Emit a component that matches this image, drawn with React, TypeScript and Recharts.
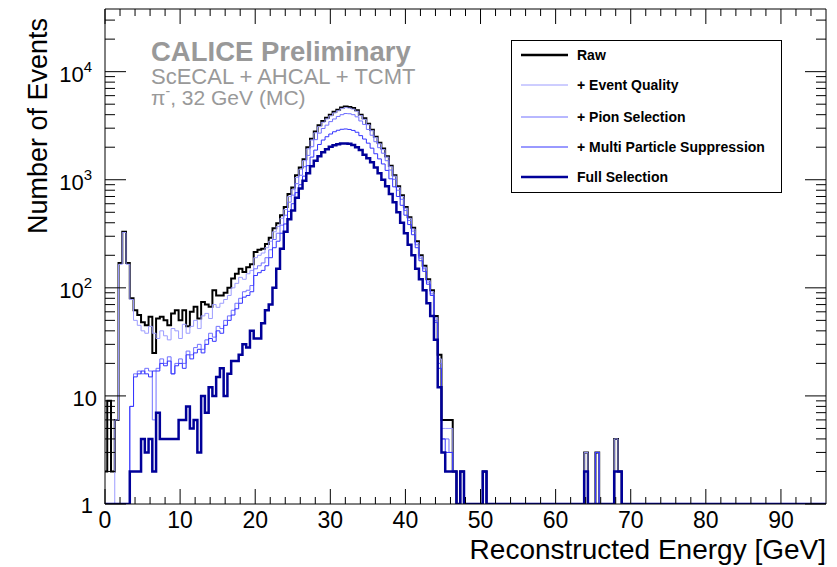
import React from 'react';
import { LineChart, Line, XAxis, YAxis } from 'recharts';

// histogram binning (GeV), bins start at -0.2 with 0.5 GeV width
const binStart = -0.2;
const binWidth = 0.5;
const xMax = 96;
const yMin = 1;
const yMax = 38000;

// counts per bin, from the first bin up to ~48 GeV
const rawCounts = [
  2, 9, 2, 6, 170, 330, 170, 80, 62, 56,
  48, 45, 54, 25, 52, 54, 50, 45, 58, 62,
  50, 62, 44, 60, 67, 52, 74, 70, 67, 95,
  85, 85, 90, 100, 122, 135, 150, 140, 155, 165,
  215, 225, 230, 255, 290, 355, 395, 470, 560, 740,
  850, 1100, 1300, 1550, 2000, 2400, 2800, 3200, 3500, 3750,
  4000, 4250, 4450, 4650, 4750, 4700, 4600, 4400, 4000, 3700,
  3300, 2900, 2500, 2200, 1950, 1650, 1350, 1100, 870, 720,
  560, 450, 360, 270, 200, 160, 120, 95, 55, 24,
  6, 6, 6, 2, 0, 2, 0,
];

const eqCounts = [
  0, 0, 0, 6, 165, 325, 165, 78, 50, 45,
  40, 38, 44, 38, 34, 40, 36, 33, 42, 40,
  34, 46, 38, 44, 50, 42, 55, 58, 52, 70,
  66, 72, 78, 85, 100, 110, 125, 120, 135, 145,
  190, 200, 210, 235, 270, 330, 370, 440, 530, 700,
  810, 1050, 1250, 1500, 1930, 2330, 2720, 3100, 3400, 3650,
  3900, 4150, 4350, 4550, 4650, 4600, 4500, 4300, 3920, 3620,
  3230, 2840, 2450, 2150, 1900, 1620, 1320, 1080, 850, 700,
  545, 440, 350, 262, 195, 155, 117, 92, 53, 22,
  5, 5, 5, 2, 0, 2, 0,
];

const pionCounts = [
  0, 0, 0, 0, 0, 0, 0, 8, 16, 17,
  16, 18, 17, 6, 18, 22, 20, 23, 16, 20,
  22, 20, 26, 24, 28, 30, 27, 33, 38, 35,
  44, 42, 50, 55, 62, 72, 80, 92, 95, 105,
  150, 160, 170, 190, 225, 280, 320, 380, 470, 620,
  720, 920, 1100, 1320, 1680, 2020, 2350, 2700, 2980, 3200,
  3450, 3650, 3850, 4000, 4100, 4080, 4000, 3820, 3500, 3250,
  2920, 2580, 2250, 1980, 1760, 1500, 1230, 1010, 800, 660,
  520, 420, 335, 250, 188, 150, 113, 88, 50, 20,
  4, 4, 3, 2, 0, 2, 0,
];

const multiCounts = [
  0, 0, 0, 0, 0, 0, 0, 8, 15, 16,
  17, 16, 15, 17, 17, 20, 19, 21, 16, 19,
  20, 18, 24, 22, 25, 27, 25, 30, 34, 32,
  40, 38, 45, 50, 56, 64, 72, 82, 85, 92,
  130, 138, 145, 160, 190, 235, 270, 320, 390, 510,
  600, 760, 900, 1080, 1350, 1620, 1880, 2120, 2330, 2500,
  2650, 2780, 2870, 2930, 2950, 2920, 2860, 2750, 2560, 2380,
  2180, 1960, 1740, 1560, 1400, 1220, 1020, 860, 700, 580,
  470, 385, 310, 235, 178, 142, 108, 85, 48, 18,
  4, 3, 3, 2, 0, 2, 0,
];

const fullCounts = [
  0, 0, 0, 0, 0, 0, 0, 2, 2, 2,
  4, 3, 4, 2, 7, 4, 4, 4, 4, 4,
  6, 6, 8, 5, 6, 3, 10, 7, 12, 10,
  15, 18, 10, 16, 21, 21, 24, 30, 28, 40,
  34, 34, 47, 62, 70, 100, 150, 230, 330, 430,
  520, 680, 830, 980, 1150, 1330, 1500, 1650, 1800, 1920,
  2020, 2090, 2130, 2160, 2170, 2150, 2100, 2000, 1880, 1700,
  1580, 1450, 1300, 1150, 1000, 870, 740, 620, 500, 400,
  320, 250, 200, 150, 120, 95, 72, 55, 33, 12,
  3, 2, 2, 2, 0, 2, 0,
];

// isolated high-energy bins (lower bin edge in GeV)
const tailEdges = [50.3, 63.8, 65.3, 67.8, 68.3];
const rawTail = [2, 3, 3, 4, 2];
const eqTail = [2, 3, 3, 4, 2];
const pionTail = [2, 2, 3, 2, 2];
const multiTail = [2, 2, 3, 2, 2];
const fullTail = [2, 2, 0, 2, 2];

const xTicks = [
  0, 2, 4, 6, 8, 10, 12, 14, 16, 18, 20, 22, 24, 26, 28, 30, 32, 34, 36, 38, 40,
  42, 44, 46, 48, 50, 52, 54, 56, 58, 60, 62, 64, 66, 68, 70, 72, 74, 76, 78, 80,
  82, 84, 86, 88, 90, 92, 94,
];
const yTicks = [
  1, 2, 3, 4, 5, 6, 7, 8, 9,
  10, 20, 30, 40, 50, 60, 70, 80, 90,
  100, 200, 300, 400, 500, 600, 700, 800, 900,
  1000, 2000, 3000, 4000, 5000, 6000, 7000, 8000, 9000,
  10000, 20000, 30000,
];

const series = [
  { key: 'raw', name: 'Raw', color: '#000000', width: 2, counts: rawCounts, tail: rawTail },
  { key: 'eq', name: '+ Event Quality', color: '#9c9cff', width: 1, counts: eqCounts, tail: eqTail },
  { key: 'pion', name: '+ Pion Selection', color: '#7070ff', width: 1, counts: pionCounts, tail: pionTail },
  { key: 'multi', name: '+ Multi Particle Suppression', color: '#3434ff', width: 1, counts: multiCounts, tail: multiTail },
  { key: 'full', name: 'Full Selection', color: '#000099', width: 2.5, counts: fullCounts, tail: fullTail },
];

const font = '"Liberation Sans", Arial, Helvetica, sans-serif';

const nBins = Math.ceil((xMax - binStart) / binWidth);
const tailIndex = tailEdges.map((e) => Math.round((e - binStart) / binWidth));

const countAt = (s: any, k: number) => {
  if (k < s.counts.length) return s.counts[k];
  const t = tailIndex.indexOf(k);
  return t >= 0 ? s.tail[t] : 0;
};

const rows: any[] = [];
for (let k = 0; k <= nBins; k++) {
  const row: any = { e: Math.round((binStart + k * binWidth) * 10) / 10 };
  series.forEach((s) => {
    // empty bins sit on the axis floor, like the log-scale histogram
    row[s.key] = Math.max(countAt(s, k === nBins ? k - 1 : k), yMin);
  });
  rows.push(row);
}

const BottomTick = (props: any) => {
  const { x, y, payload } = props;
  const major = payload.value % 10 === 0;
  return (
    <g>
      <line x1={x} x2={x} y1={y} y2={y - (major ? 15 : 7)} stroke="#000" />
      {major && (
        <text x={x} y={y + 24} textAnchor="middle" fontSize={23} fontFamily={font} fill="#000">
          {payload.value}
        </text>
      )}
    </g>
  );
};

const TopTick = (props: any) => {
  const { x, y, payload } = props;
  const major = payload.value % 10 === 0;
  return <line x1={x} x2={x} y1={y} y2={y + (major ? 15 : 7)} stroke="#000" />;
};

const decade = (v: number) => {
  const p = Math.round(Math.log10(v));
  return Math.pow(10, p) === v ? p : -1;
};

const LeftTick = (props: any) => {
  const { x, y, payload } = props;
  const p = decade(payload.value);
  const major = p >= 0;
  let label = null;
  if (p === 0) {
    label = (
      <text x={x - 12} y={y + 9} textAnchor="end" fontSize={22} fontFamily={font} fill="#000">1</text>
    );
  } else if (p === 1) {
    label = (
      <text x={x - 8} y={y + 10} textAnchor="end" fontSize={22} fontFamily={font} fill="#000">10</text>
    );
  } else if (p > 1) {
    label = (
      <text x={x - 13} y={y + 10} textAnchor="end" fontSize={22} fontFamily={font} fill="#000">
        10<tspan fontSize={15} dy={-10}>{p}</tspan>
      </text>
    );
  }
  return (
    <g>
      <line x1={x} x2={x + (major ? 21 : 10)} y1={y} y2={y} stroke="#000" />
      {label}
    </g>
  );
};

const RightTick = (props: any) => {
  const { x, y, payload } = props;
  const major = decade(payload.value) >= 0;
  return <line x1={x} x2={x - (major ? 21 : 10)} y1={y} y2={y} stroke="#000" />;
};

const legendRows = [55, 85, 117, 147, 177];

const App = () => {
  return (
    <div style={{ position: 'absolute', left: 0, top: 0, width: 837, height: 567, background: '#fff' }}>
      <LineChart width={837} height={567} data={rows} margin={{ top: 8, right: 10, bottom: 0, left: 0 }}>
        <XAxis
          xAxisId="b"
          dataKey="e"
          type="number"
          domain={[0, xMax]}
          allowDataOverflow
          ticks={xTicks}
          interval={0}
          tickSize={0}
          tickMargin={0}
          tick={(p: any) => <BottomTick {...p} />}
          height={63}
          axisLine={{ stroke: '#000' }}
        />
        <XAxis
          xAxisId="t"
          orientation="top"
          dataKey="e"
          type="number"
          domain={[0, xMax]}
          allowDataOverflow
          ticks={xTicks}
          interval={0}
          tickSize={0}
          tickMargin={0}
          tick={(p: any) => <TopTick {...p} />}
          height={1}
          axisLine={{ stroke: '#000' }}
        />
        <YAxis
          yAxisId="l"
          scale="log"
          domain={[yMin, yMax]}
          allowDataOverflow
          ticks={yTicks}
          interval={0}
          tickSize={0}
          tickMargin={0}
          tick={(p: any) => <LeftTick {...p} />}
          width={105}
          axisLine={{ stroke: '#000' }}
        />
        <YAxis
          yAxisId="r"
          orientation="right"
          scale="log"
          domain={[yMin, yMax]}
          allowDataOverflow
          ticks={yTicks}
          interval={0}
          tickSize={0}
          tickMargin={0}
          tick={(p: any) => <RightTick {...p} />}
          width={1}
          axisLine={{ stroke: '#000' }}
        />
        {series.map((s) => (
          <Line
            key={s.key}
            xAxisId="b"
            yAxisId="l"
            type="stepAfter"
            dataKey={s.key}
            name={s.name}
            stroke={s.color}
            strokeWidth={s.width}
            dot={false}
            activeDot={false}
            isAnimationActive={false}
          />
        ))}
      </LineChart>
      <svg
        width={837}
        height={567}
        style={{ position: 'absolute', left: 0, top: 0, pointerEvents: 'none' }}
        fontFamily={font}
      >
        <text x={151} y={61} fontSize={27.5} fontWeight="bold" fill="#999">CALICE Preliminary</text>
        <text x={151} y={84} fontSize={22} fill="#999">ScECAL + AHCAL + TCMT</text>
        <text x={151} y={105} fontSize={21} fill="#999">
          π<tspan fontSize={14} dy={-9}>-</tspan>
          <tspan dy={9}>, 32 GeV (MC)</tspan>
        </text>

        <text x={826} y={559} fontSize={28} textAnchor="end" fill="#000">Reconstructed Energy [GeV]</text>
        <text
          x={0}
          y={0}
          fontSize={27}
          textAnchor="end"
          fill="#000"
          transform="translate(47,18) rotate(-90)"
        >
          Number of Events
        </text>

        <rect x={511.5} y={40.5} width={270} height={152} fill="#fff" stroke="#000" strokeWidth={1} />
        {series.map((s, i) => (
          <g key={s.key}>
            <line
              x1={521}
              x2={568}
              y1={legendRows[i]}
              y2={legendRows[i]}
              stroke={s.color}
              strokeWidth={s.width === 1 ? 1 : 2.5}
            />
            <text x={577} y={legendRows[i] + 5} fontSize={14} fontWeight="bold" fill="#000">
              {s.name}
            </text>
          </g>
        ))}
      </svg>
    </div>
  );
};

export default App;
